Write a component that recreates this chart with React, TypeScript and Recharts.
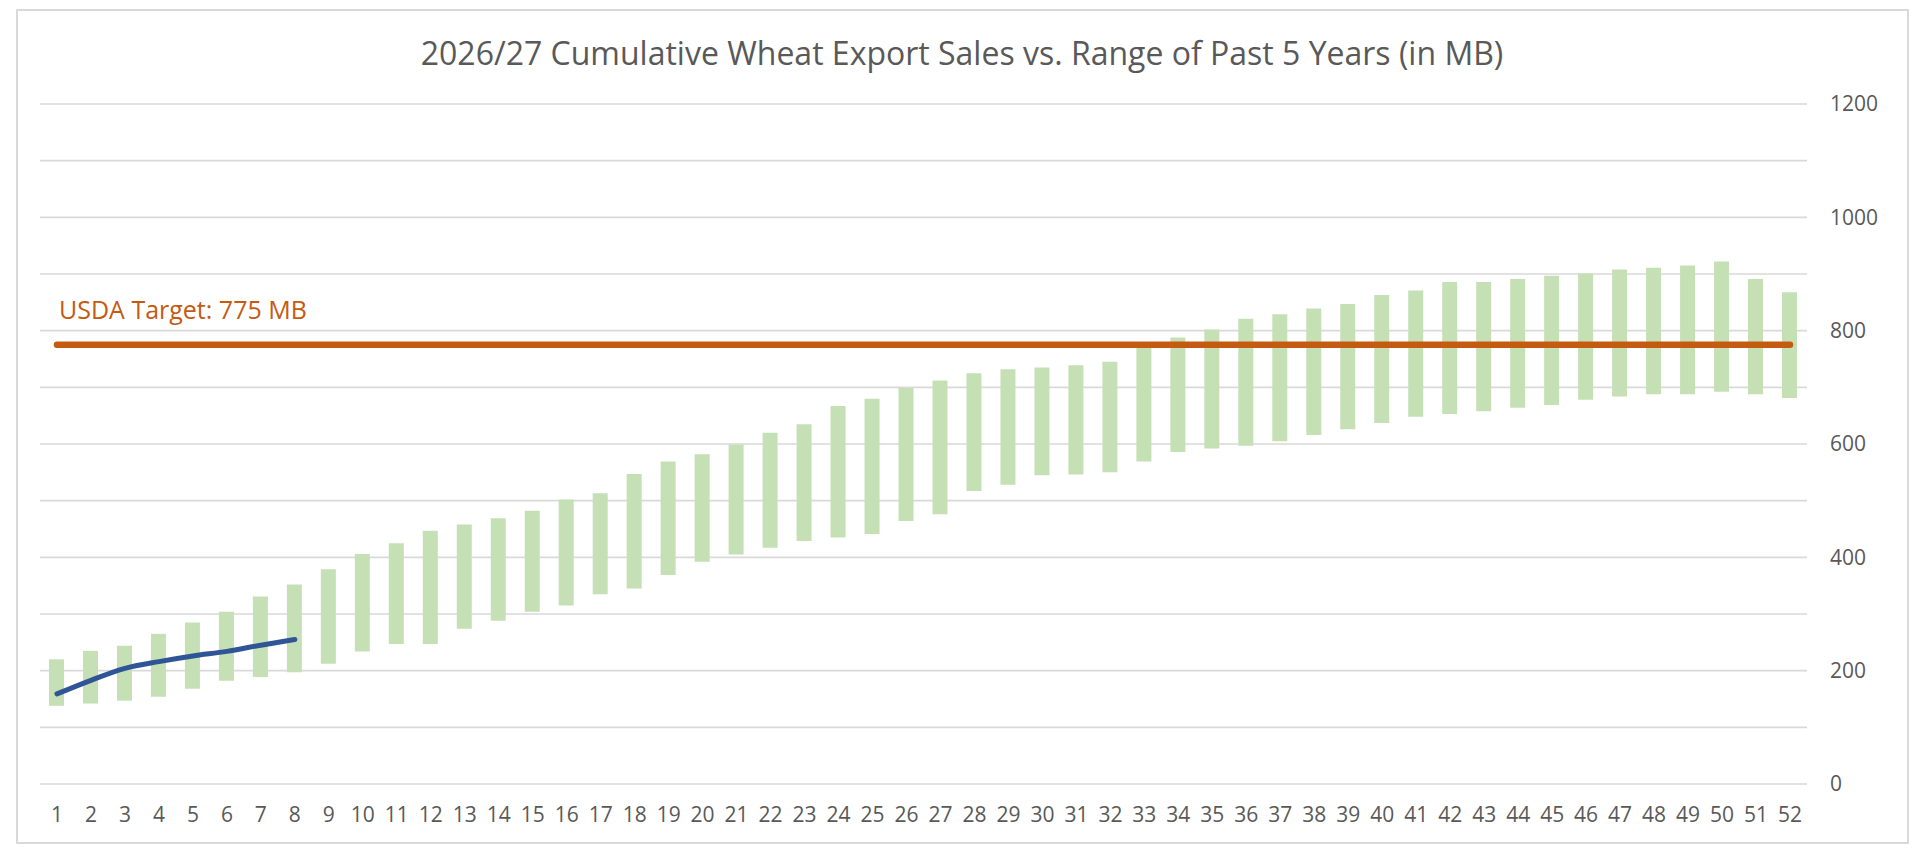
import React from "react";
import { ComposedChart, Bar, Line, XAxis, YAxis, CartesianGrid } from "recharts";

const TITLE = "2026/27 Cumulative Wheat Export Sales vs. Range of Past 5 Years (in MB)";
const TARGET_LABEL = "USDA Target: 775 MB";
const TARGET = 775;

const weeks = [
  1, 2, 3, 4, 5, 6, 7, 8, 9, 10, 11, 12, 13, 14, 15, 16, 17, 18, 19, 20, 21, 22, 23, 24, 25, 26,
  27, 28, 29, 30, 31, 32, 33, 34, 35, 36, 37, 38, 39, 40, 41, 42, 43, 44, 45, 46, 47, 48, 49, 50, 51, 52,
];

const rangeLow = [
  138, 142, 147, 154, 168, 182, 189, 197, 212, 234, 247, 247, 274, 288, 304, 315, 335, 345, 369, 392,
  405, 417, 429, 435, 441, 464, 476, 517, 528, 545, 546, 550, 569, 586, 592, 597, 605, 616, 626, 637,
  648, 653, 658, 664, 669, 678, 684, 688, 688, 692, 688, 681,
];

const rangeHigh = [
  220, 235, 244, 265, 285, 304, 331, 352, 379, 406, 425, 447, 458, 469, 482, 502, 513, 547, 569, 582,
  599, 620, 635, 667, 680, 699, 712, 725, 732, 735, 739, 745, 778, 788, 802, 821, 829, 839, 847, 863,
  871, 886, 886, 891, 897, 901, 908, 911, 915, 922, 891, 868,
];

const currentSales = [159, 183, 204, 216, 226, 234, 245, 255];

const yTicks = [0, 100, 200, 300, 400, 500, 600, 700, 800, 900, 1000, 1100, 1200];

const data = weeks.map((w, i) => ({
  week: w,
  range: [rangeLow[i], rangeHigh[i]],
  target: TARGET,
  current: i < currentSales.length ? currentSales[i] : null,
}));

const FONT = "'Open Sans', sans-serif";

export default function App() {
  return (
    <div style={{ position: "absolute", left: 0, top: 0, width: 1920, height: 865, background: "#fff", fontFamily: FONT }}>
      <ComposedChart
        width={1920}
        height={865}
        data={data}
        margin={{ top: 104, right: 33, left: 40, bottom: 51 }}
      >
        <CartesianGrid horizontal vertical={false} stroke="#D9D9D9" strokeWidth={1.6} />
        <XAxis
          dataKey="week"
          type="category"
          axisLine={false}
          tickLine={false}
          height={30}
          tickMargin={17}
          interval={0}
          tick={{ fill: "#595959", fontSize: 21, fontFamily: FONT }}
        />
        <YAxis
          orientation="right"
          domain={[0, 1200]}
          ticks={yTicks}
          interval={0}
          axisLine={false}
          tickLine={false}
          width={80}
          tickMargin={17}
          tickFormatter={(v: number) => (v % 200 === 0 ? String(v) : "")}
          tick={{ fill: "#595959", fontSize: 21, fontFamily: FONT }}
        />
        <Bar dataKey="range" fill="#C5E0B4" barSize={15} isAnimationActive={false} />
        <Line
          dataKey="target"
          type="linear"
          stroke="#C55A11"
          strokeWidth={6.5}
          strokeLinecap="round"
          dot={false}
          activeDot={false}
          isAnimationActive={false}
        />
        <Line
          dataKey="current"
          type="monotone"
          stroke="#2F5597"
          strokeWidth={5}
          strokeLinecap="round"
          strokeLinejoin="round"
          dot={false}
          activeDot={false}
          connectNulls={false}
          isAnimationActive={false}
        />
      </ComposedChart>
      <svg
        width={1920}
        height={865}
        style={{ position: "absolute", left: 0, top: 0, pointerEvents: "none" }}
      >
        <rect x={17} y={10} width={1891} height={833} fill="none" stroke="#D9D9D9" strokeWidth={2} />
        <text x={962} y={65} textAnchor="middle" fill="#595959" fontSize={32} fontFamily={FONT}>
          {TITLE}
        </text>
        <text x={59} y={319} textAnchor="start" fill="#C55A11" fontSize={25} fontFamily={FONT}>
          {TARGET_LABEL}
        </text>
      </svg>
    </div>
  );
}
